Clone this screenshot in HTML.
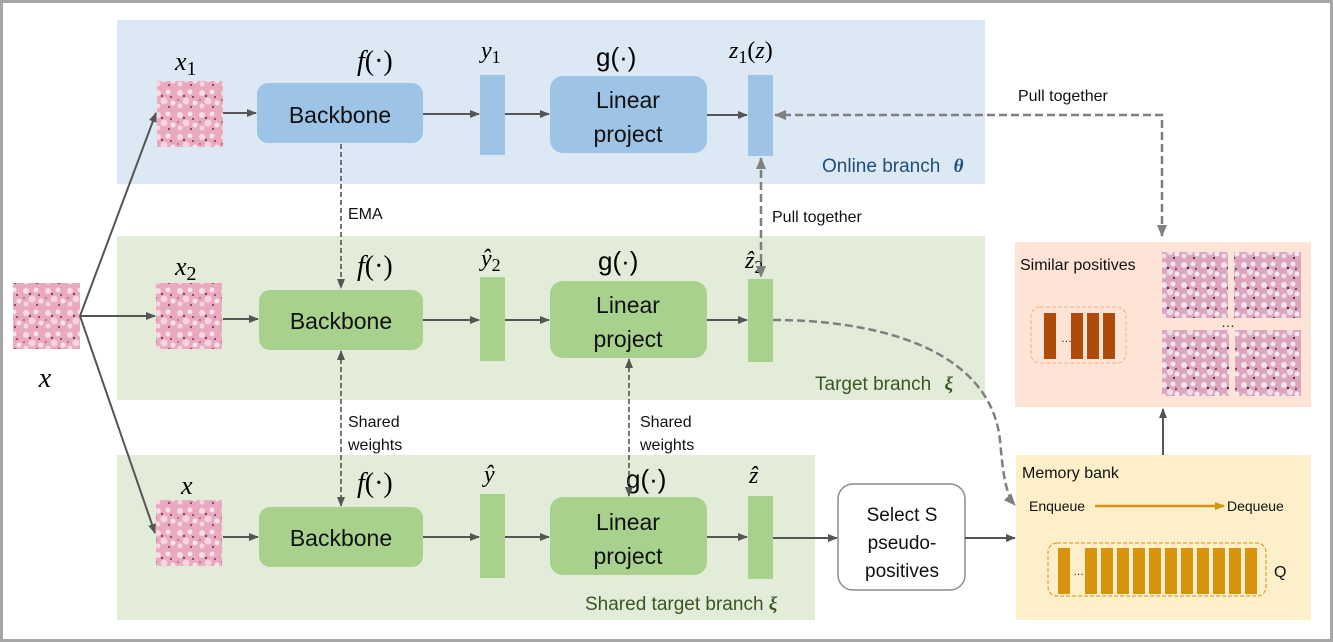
<!DOCTYPE html>
<html><head><meta charset="utf-8"><style>
html,body{margin:0;padding:0;background:#fff}
svg{display:block}
text{font-family:"Liberation Sans",sans-serif}
.m{font-family:"Liberation Serif",serif;font-style:italic}
</style></head><body>
<svg width="1333" height="642" viewBox="0 0 1333 642" xmlns="http://www.w3.org/2000/svg">
<defs>
<pattern id="tis" width="22" height="22" patternUnits="userSpaceOnUse">
<rect width="22" height="22" fill="#e9a9bf"/>
<circle cx="4" cy="5" r="3" fill="#f7dbe4"/><circle cx="14" cy="4" r="2.5" fill="#f8e2ea"/>
<circle cx="10" cy="13" r="3.5" fill="#f5d3df"/><circle cx="19" cy="15" r="2.5" fill="#f9e4eb"/>
<circle cx="4" cy="18" r="2.5" fill="#f6d8e2"/><circle cx="8" cy="8" r="1.2" fill="#8a3f6a"/>
<circle cx="17" cy="9" r="1" fill="#7a3060"/><circle cx="15" cy="19" r="1.1" fill="#8a3f6a"/>
<circle cx="2" cy="12" r="0.9" fill="#9b4f78"/>
</pattern>
<pattern id="tis2" width="20" height="20" patternUnits="userSpaceOnUse">
<rect width="20" height="20" fill="#dba6bd"/>
<circle cx="4" cy="5" r="3" fill="#f2e2ea"/><circle cx="13" cy="4" r="2.5" fill="#f4e6ec"/>
<circle cx="10" cy="12" r="3.2" fill="#efdbe5"/><circle cx="17" cy="14" r="2.5" fill="#f5e8ee"/>
<circle cx="4" cy="16" r="2.5" fill="#f0dde6"/><circle cx="8" cy="8" r="1.2" fill="#5a2a5a"/>
<circle cx="16" cy="9" r="1" fill="#6a2e60"/><circle cx="14" cy="18" r="1.1" fill="#5a2a5a"/>
</pattern>
<marker id="a" markerWidth="10" markerHeight="10" refX="9" refY="5" orient="auto-start-reverse" markerUnits="userSpaceOnUse"><path d="M0,1 L10,5 L0,9 Z" fill="#555"/></marker>
<marker id="g" markerWidth="12" markerHeight="12" refX="11" refY="6" orient="auto-start-reverse" markerUnits="userSpaceOnUse"><path d="M0,1 L12,6 L0,11 Z" fill="#7f7f7f"/></marker>
<marker id="o" markerWidth="10" markerHeight="10" refX="9" refY="5" orient="auto" markerUnits="userSpaceOnUse"><path d="M0,1 L10,5 L0,9 Z" fill="#d8920b"/></marker>
</defs>
<rect x="1.5" y="1.5" width="1330" height="639" fill="#fff" stroke="#a6a6a6" stroke-width="3"/>

<!-- bands -->
<rect x="117" y="20" width="868" height="164" fill="#dde8f5"/>
<rect x="117" y="236" width="868" height="164" fill="#e2ecd9"/>
<rect x="117" y="455" width="698" height="165" fill="#e2ecd9"/>
<rect x="1015" y="242" width="296" height="165" fill="#fde4d6"/>
<rect x="1016" y="455" width="295" height="165" fill="#fdefc9"/>

<!-- images -->
<rect x="13" y="283" width="67" height="66" fill="url(#tis)"/>
<rect x="157" y="81" width="66" height="66" fill="url(#tis)"/>
<rect x="156" y="283" width="66" height="66" fill="url(#tis)"/>
<rect x="156" y="500" width="66" height="66" fill="url(#tis)"/>
<rect x="1162" y="252" width="66" height="66" fill="url(#tis2)"/>
<rect x="1234" y="252" width="67" height="66" fill="url(#tis2)"/>
<rect x="1162" y="330" width="67" height="66" fill="url(#tis2)"/>
<rect x="1235" y="330" width="66" height="66" fill="url(#tis2)"/>
<text x="1228" y="327" font-size="14" text-anchor="middle" fill="#222">…</text>

<!-- labels math -->
<text class="m" x="45" y="387" font-size="28" text-anchor="middle">x</text>
<text class="m" x="175" y="70" font-size="26">x<tspan font-style="normal" font-size="20" dy="5">1</tspan></text>
<text class="m" x="175" y="275" font-size="26">x<tspan font-style="normal" font-size="20" dy="5">2</tspan></text>
<text class="m" x="181" y="494" font-size="26">x</text>
<text class="m" x="357" y="70" font-size="28">f<tspan font-style="normal">(·)</tspan></text>
<text class="m" x="357" y="275" font-size="28">f<tspan font-style="normal">(·)</tspan></text>
<text class="m" x="357" y="492" font-size="28">f<tspan font-style="normal">(·)</tspan></text>
<text class="m" x="481" y="58" font-size="24">y<tspan font-style="normal" font-size="18" dy="5">1</tspan></text>
<text class="m" x="481" y="266" font-size="24">ŷ<tspan font-style="normal" font-size="18" dy="5">2</tspan></text>
<text class="m" x="484" y="482" font-size="24">ŷ</text>
<text x="596" y="66" font-size="26" font-family="Liberation Serif">g(·)</text>
<text x="598" y="270" font-size="26" font-family="Liberation Serif">g(·)</text>
<text x="626" y="488" font-size="26" font-family="Liberation Serif">g(·)</text>
<text class="m" x="728" y="58" font-size="24" transform="translate(0,0)" dx="250" style="display:none"></text>
<text class="m" x="728" y="58" font-size="24"> </text>
<text class="m" x="729" y="58" font-size="24">z<tspan font-style="normal" font-size="18" dy="5">1</tspan><tspan dy="-5" font-style="normal">(</tspan>z<tspan font-style="normal">)</tspan></text>
<text class="m" x="745" y="268" font-size="24">ẑ<tspan font-style="normal" font-size="18" dy="5">2</tspan></text>
<text class="m" x="749" y="483" font-size="24">ẑ</text>

<!-- boxes -->
<rect x="257" y="83" width="166" height="60" rx="11" fill="#9dc3e6"/>
<text x="340" y="123" font-size="23" text-anchor="middle" fill="#111">Backbone</text>
<rect x="259" y="290" width="164" height="60" rx="11" fill="#a9d18e"/>
<text x="341" y="329" font-size="23" text-anchor="middle" fill="#111">Backbone</text>
<rect x="259" y="507" width="164" height="60" rx="11" fill="#a9d18e"/>
<text x="341" y="546" font-size="23" text-anchor="middle" fill="#111">Backbone</text>

<rect x="550" y="76" width="157" height="77" rx="13" fill="#9dc3e6"/>
<text x="628" y="108" font-size="23" text-anchor="middle" fill="#111">Linear</text>
<text x="628" y="142" font-size="23" text-anchor="middle" fill="#111">project</text>
<rect x="550" y="281" width="157" height="77" rx="13" fill="#a9d18e"/>
<text x="628" y="313" font-size="23" text-anchor="middle" fill="#111">Linear</text>
<text x="628" y="347" font-size="23" text-anchor="middle" fill="#111">project</text>
<rect x="550" y="497" width="157" height="78" rx="13" fill="#a9d18e"/>
<text x="628" y="530" font-size="23" text-anchor="middle" fill="#111">Linear</text>
<text x="628" y="564" font-size="23" text-anchor="middle" fill="#111">project</text>

<rect x="480" y="75" width="25" height="80" fill="#9dc3e6"/>
<rect x="480" y="277" width="25" height="84" fill="#a9d18e"/>
<rect x="480" y="494" width="25" height="84" fill="#a9d18e"/>
<rect x="748" y="75" width="25" height="81" fill="#9dc3e6"/>
<rect x="748" y="279" width="25" height="83" fill="#a9d18e"/>
<rect x="748" y="496" width="25" height="83" fill="#a9d18e"/>

<rect x="838" y="484" width="127" height="106" rx="15" fill="#fff" stroke="#8c8c8c" stroke-width="1.5"/>
<text x="902" y="521" font-size="19" text-anchor="middle" fill="#111">Select S</text>
<text x="902" y="549" font-size="19" text-anchor="middle" fill="#111">pseudo-</text>
<text x="902" y="577" font-size="19" text-anchor="middle" fill="#111">positives</text>

<!-- branch labels -->
<text x="822" y="172" font-size="19" fill="#1f4e79">Online branch <tspan font-family="Liberation Serif" font-style="italic" font-weight="bold" dx="8">θ</tspan></text>
<text x="815" y="390" font-size="19" fill="#385723">Target branch <tspan font-family="Liberation Serif" font-style="italic" font-weight="bold" dx="8">ξ</tspan></text>
<text x="585" y="610" font-size="19" fill="#385723">Shared target branch <tspan font-family="Liberation Serif" font-style="italic" font-weight="bold">ξ</tspan></text>

<!-- solid arrows -->
<g stroke="#555" stroke-width="2" fill="none" marker-end="url(#a)">
<line x1="80" y1="316" x2="156" y2="113"/>
<line x1="80" y1="316" x2="155" y2="316"/>
<line x1="80" y1="316" x2="155" y2="533"/>
<line x1="223" y1="113" x2="256" y2="113"/>
<line x1="223" y1="319" x2="258" y2="319"/>
<line x1="223" y1="537" x2="258" y2="537"/>
<line x1="423" y1="114" x2="479" y2="114"/>
<line x1="423" y1="320" x2="479" y2="320"/>
<line x1="423" y1="537" x2="479" y2="537"/>
<line x1="505" y1="114" x2="549" y2="114"/>
<line x1="505" y1="320" x2="549" y2="320"/>
<line x1="505" y1="537" x2="549" y2="537"/>
<line x1="707" y1="115" x2="747" y2="115"/>
<line x1="707" y1="320" x2="747" y2="320"/>
<line x1="707" y1="537" x2="747" y2="537"/>
<line x1="773" y1="538" x2="837" y2="538"/>
<line x1="965" y1="538" x2="1015" y2="538"/>
<line x1="1163" y1="455" x2="1163" y2="409"/>
</g>
<!-- dashed thin -->
<g stroke="#555" stroke-width="1.6" fill="none" stroke-dasharray="5,3">
<line x1="341" y1="144" x2="341" y2="288" marker-end="url(#a)"/>
<line x1="341" y1="351" x2="341" y2="506" marker-start="url(#a)" marker-end="url(#a)"/>
<line x1="629" y1="359" x2="629" y2="496" marker-start="url(#a)" marker-end="url(#a)"/>
</g>
<text x="348" y="219" font-size="16" fill="#111">EMA</text>
<text x="348" y="427" font-size="16" fill="#111">Shared</text>
<text x="348" y="450" font-size="16" fill="#111">weights</text>
<text x="640" y="427" font-size="16" fill="#111">Shared</text>
<text x="640" y="450" font-size="16" fill="#111">weights</text>
<!-- dashed thick gray -->
<g stroke="#7f7f7f" stroke-width="2.5" fill="none" stroke-dasharray="8,4">
<line x1="761" y1="158" x2="761" y2="277" marker-start="url(#g)" marker-end="url(#g)"/>
<polyline points="1162,236 1162,115 775,115" marker-start="url(#g)" marker-end="url(#g)"/>
<path d="M773,320 C880,320 990,350 1000,440 C1003,475 1006,495 1015,505" marker-end="url(#g)"/>
</g>
<text x="772" y="222" font-size="16" fill="#111">Pull together</text>
<text x="1018" y="101" font-size="16" fill="#111">Pull together</text>

<!-- similar positives -->
<text x="1020" y="270" font-size="16" fill="#111">Similar positives</text>
<rect x="1031" y="307" width="95" height="56" rx="9" fill="none" stroke="#f4b183" stroke-width="1" stroke-dasharray="4,2"/>
<rect x="1044" y="313" width="12" height="46" fill="#b04a08"/>
<text x="1061" y="342" font-size="11" fill="#222">…</text>
<rect x="1071" y="313" width="12" height="46" fill="#b04a08"/>
<rect x="1087" y="313" width="12" height="46" fill="#b04a08"/>
<rect x="1103" y="313" width="12" height="46" fill="#b04a08"/>

<!-- memory bank -->
<text x="1022" y="478" font-size="16" fill="#111">Memory bank</text>
<text x="1029" y="511" font-size="14" fill="#111">Enqueue</text>
<line x1="1095" y1="506" x2="1224" y2="506" stroke="#d8920b" stroke-width="2.5" marker-end="url(#o)"/>
<text x="1227" y="511" font-size="14" fill="#111">Dequeue</text>
<rect x="1048" y="543" width="218" height="53" rx="9" fill="none" stroke="#d8920b" stroke-width="1" stroke-dasharray="4,2"/>
<rect x="1058" y="548" width="12" height="46" fill="#d8920b"/>
<text x="1073" y="575" font-size="11" fill="#222">…</text>
<g fill="#d8920b">
<rect x="1085" y="548" width="12" height="46"/><rect x="1101" y="548" width="12" height="46"/>
<rect x="1117" y="548" width="12" height="46"/><rect x="1133" y="548" width="12" height="46"/>
<rect x="1149" y="548" width="12" height="46"/><rect x="1165" y="548" width="12" height="46"/>
<rect x="1181" y="548" width="12" height="46"/><rect x="1197" y="548" width="12" height="46"/>
<rect x="1213" y="548" width="12" height="46"/><rect x="1229" y="548" width="12" height="46"/>
<rect x="1245" y="548" width="12" height="46"/>
</g>
<text x="1274" y="577" font-size="16" fill="#111">Q</text>
</svg>
</body></html>
